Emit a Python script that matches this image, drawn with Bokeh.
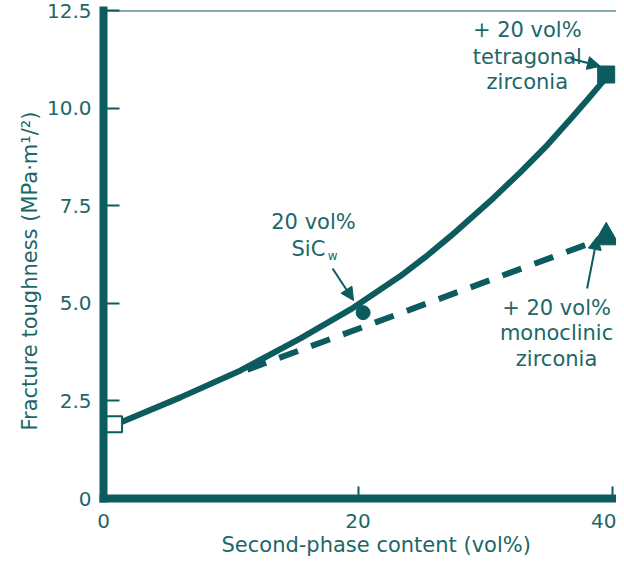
from bokeh.plotting import figure
from bokeh.models import (Range1d, FixedTicker, Span, Arrow, NormalHead,
                          ColumnDataSource, Title)
from bokeh.core.properties import value
from bokeh.embed import file_html
from bokeh.resources import INLINE

LINE = "#0c5b5e"
TEXT = "#1d6768"
FONT = "DejaVu Sans"

# ---- data ----
# solid curve (toughness vs second-phase content)
curve_x = [1.0, 6.05, 10.77, 15.48, 19.65, 23.3, 25.46, 27.27, 30.65, 32.77,
           34.89, 36.7, 38.04, 39.6]
curve_y = [1.9, 2.59, 3.28, 4.10, 4.89, 5.69, 6.23, 6.72, 7.70, 8.36,
           9.06, 9.72, 10.22, 10.82]
# dashed line (monoclinic zirconia)
dash_x = [11.3, 39.5]
dash_y = [3.3, 6.69]
# markers
base_x, base_y = [0.83], [1.9]         # open square (matrix)
sic_x, sic_y = [20.4], [4.76]          # filled circle (SiC whiskers)
tet_x, tet_y = [39.5], [10.86]         # filled square (tetragonal zirconia)
mono_x, mono_y = [39.5], [6.69]        # filled triangle (monoclinic zirconia)

x_ticks = [0, 20, 40]
y_ticks = [0, 2.5, 5, 7.5, 10, 12.5]
y_tick_labels = ["0", "2.5", "5.0", "7.5", "10.0", "12.5"]

x_title = "Second-phase content (vol%)"
y_title = "Fracture toughness (MPa\u00b7m\u00b9/\u00b2)"

ann_text = ["20 vol%", "SiC",
            "+ 20 vol%", "tetragonal", "zirconia",
            "+ 20 vol%", "monoclinic", "zirconia"]
ann_x = [16.5, 16.1, 33.3, 33.3, 33.3, 35.6, 35.6, 35.6]
ann_y = [7.07, 6.40, 11.99, 11.32, 10.66, 4.89, 4.23, 3.57]

W, H = 616, 563
p = figure(width=W, height=H, x_range=Range1d(0, 40.31), y_range=Range1d(0, 12.5),
           output_backend="svg", toolbar_location=None,
           min_border_left=103, min_border_right=0, min_border_top=10,
           min_border_bottom=65)
p.outline_line_color = None
p.grid.visible = False
p.background_fill_color = "white"

for ax in (p.xaxis[0], p.yaxis[0]):
    ax.axis_line_color = LINE
    ax.axis_line_width = 8
    ax.axis_line_cap = "square"
    ax.major_tick_line_color = LINE
    ax.major_tick_line_width = 2
    ax.major_tick_out = 0
    ax.minor_tick_line_color = None
    ax.major_label_text_font = FONT
    ax.major_label_text_font_size = "20px"
    ax.major_label_text_color = TEXT

p.xaxis.ticker = FixedTicker(ticks=x_ticks)
p.xaxis.major_tick_in = 12
p.xaxis.major_label_standoff = 15
p.yaxis.ticker = FixedTicker(ticks=y_ticks)
p.yaxis.major_tick_in = 16
p.yaxis.major_label_standoff = 12
p.yaxis.major_label_overrides = {t: s for t, s in zip(y_ticks, y_tick_labels)}

# axis titles as side titles (so they can be offset)
p.add_layout(Title(text=x_title, align="left", offset=118, standoff=0,
                   text_font=FONT, text_font_size="21px", text_font_style="normal",
                   text_color=TEXT), "below")
p.add_layout(Title(text=y_title, align="left", offset=68, standoff=4,
                   text_font=FONT, text_font_size="21px", text_font_style="normal",
                   text_color=TEXT), "left")

# top frame line
p.add_layout(Span(location=12.5, dimension="width", line_color=LINE, line_width=2))

# curves
p.line(curve_x, curve_y, line_color=LINE, line_width=6, line_join="round")
p.line(dash_x, dash_y, line_color=LINE, line_width=6, line_dash="20 14")

# markers
p.scatter(base_x, base_y, marker="square", size=16, fill_color="white",
          line_color=LINE, line_width=2)
p.scatter(sic_x, sic_y, marker="circle", size=14, fill_color=LINE, line_color=LINE)
p.scatter(tet_x, tet_y, marker="square", size=17, fill_color=LINE, line_color=LINE)
p.scatter(mono_x, mono_y, marker="triangle", size=26, fill_color=LINE, line_color=LINE)

# annotation texts
src = ColumnDataSource(dict(x=ann_x, y=ann_y, t=ann_text))
p.text(x="x", y="y", text="t", source=src, text_font=value(FONT),
       text_font_size="21px", text_align="center", text_baseline="middle",
       text_color=TEXT)
p.text(x=[18.0], y=[6.2], text=["w"], text_font=value(FONT), text_font_size="12px",
       text_align="center", text_baseline="middle", text_color=TEXT)

# arrows
def arrow(xs, ys, xe, ye):
    p.add_layout(Arrow(end=NormalHead(size=13, fill_color=LINE, line_color=LINE),
                       x_start=xs, y_start=ys, x_end=xe, y_end=ye,
                       line_color=LINE, line_width=2))

arrow(18.0, 5.89, 19.65, 5.07)
arrow(36.7, 11.27, 39.05, 11.07)
arrow(38.0, 5.38, 38.8, 6.71)

open("out.html", "w").write(file_html(p, INLINE))
